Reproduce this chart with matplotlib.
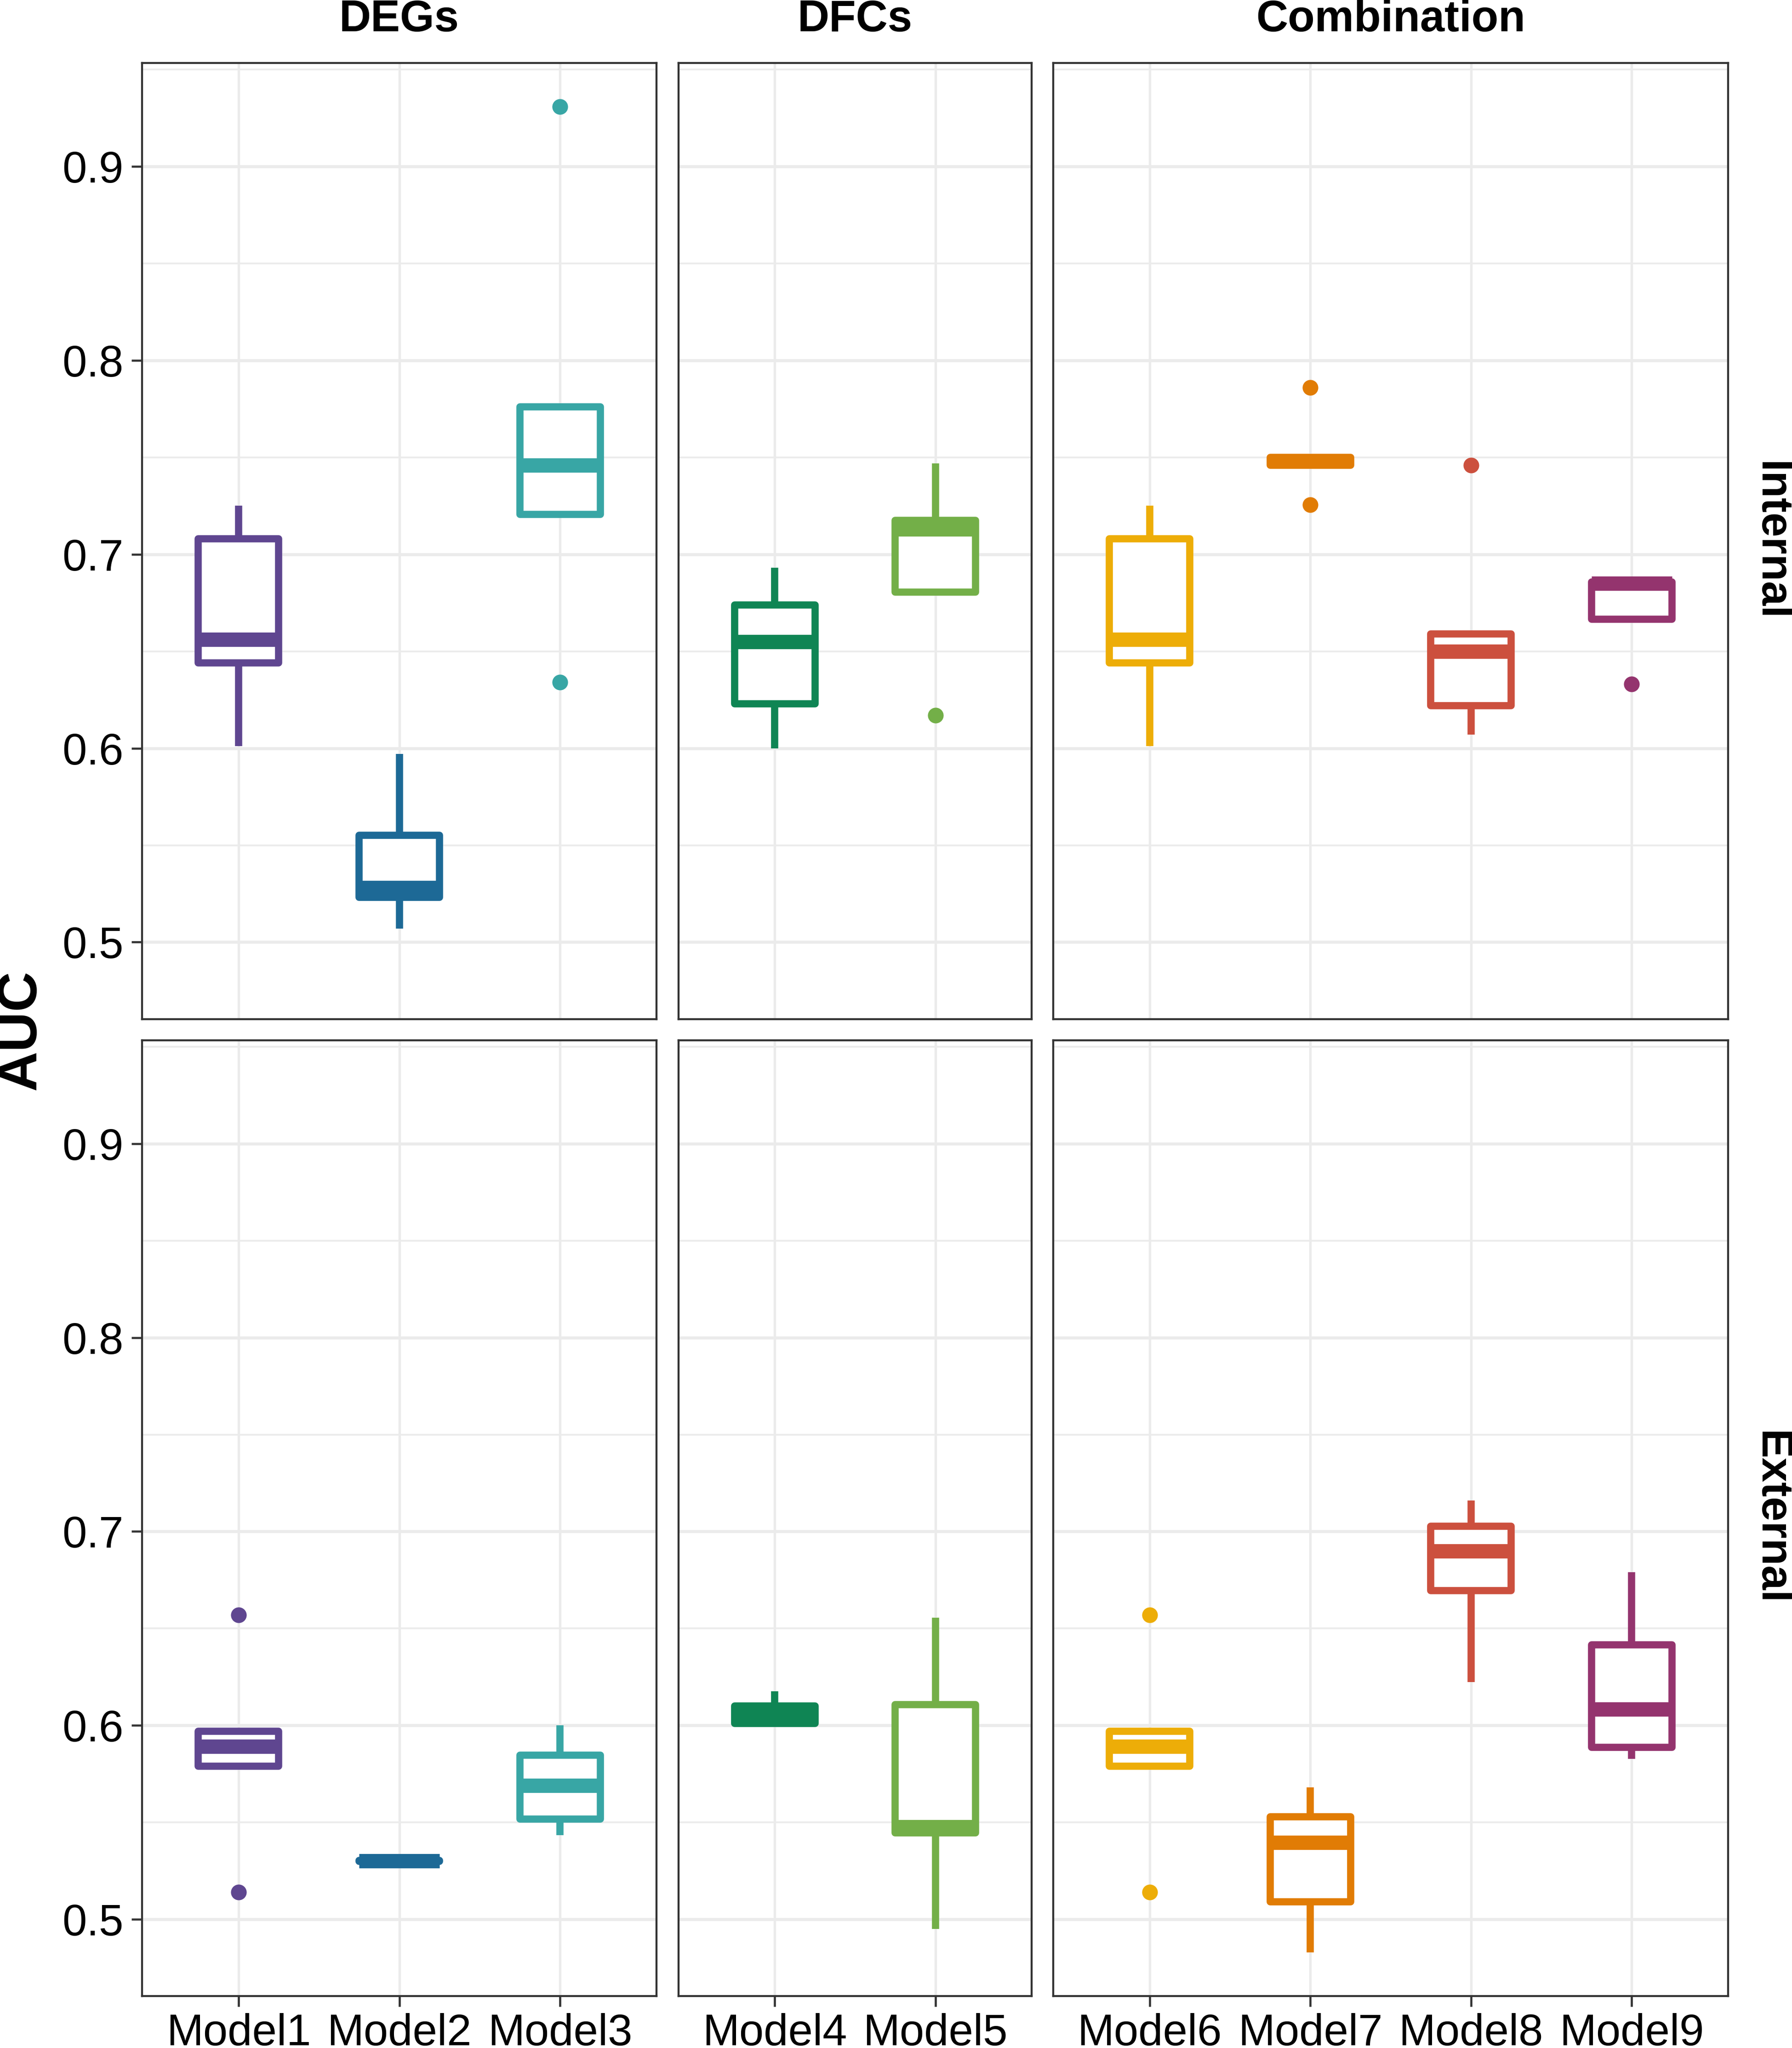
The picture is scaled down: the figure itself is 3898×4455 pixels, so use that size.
import numpy as np
import matplotlib.pyplot as plt
from matplotlib.ticker import MultipleLocator, NullLocator

plt.rcParams['font.family'] = ['Liberation Sans', 'DejaVu Sans']

# facets and models
groups = ['DEGs', 'DFCs', 'Combination']
group_models = [['Model1', 'Model2', 'Model3'],
                ['Model4', 'Model5'],
                ['Model6', 'Model7', 'Model8', 'Model9']]
sets = ['Internal', 'External']

# CARTO prism colours, one per model
model_colors = {'Model1': '#5F4690', 'Model2': '#1D6996', 'Model3': '#38A6A5',
                'Model4': '#0F8554', 'Model5': '#73AF48', 'Model6': '#EDAD08',
                'Model7': '#E17C05', 'Model8': '#CC503E', 'Model9': '#94346E'}

# AUC of the 5 runs per model
internal_auc = {
    'Model1': [0.601, 0.644, 0.656, 0.708, 0.725],
    'Model2': [0.507, 0.523, 0.528, 0.555, 0.597],
    'Model3': [0.634, 0.7205, 0.746, 0.776, 0.931],
    'Model4': [0.600, 0.623, 0.655, 0.674, 0.693],
    'Model5': [0.617, 0.6805, 0.713, 0.7175, 0.747],
    'Model6': [0.601, 0.644, 0.656, 0.708, 0.725],
    'Model7': [0.7255, 0.746, 0.748, 0.750, 0.786],
    'Model8': [0.607, 0.622, 0.650, 0.659, 0.746],
    'Model9': [0.633, 0.6665, 0.685, 0.6858, 0.686],
}
external_auc = {
    'Model1': [0.514, 0.579, 0.589, 0.597, 0.657],
    'Model2': [0.5295, 0.5297, 0.5300, 0.5302, 0.5305],
    'Model3': [0.5433, 0.5516, 0.569, 0.5845, 0.600],
    'Model4': [0.600, 0.601, 0.606, 0.610, 0.6175],
    'Model5': [0.495, 0.5446, 0.5475, 0.6106, 0.6555],
    'Model6': [0.514, 0.579, 0.589, 0.597, 0.657],
    'Model7': [0.4827, 0.5088, 0.5395, 0.5529, 0.568],
    'Model8': [0.6223, 0.6694, 0.690, 0.7027, 0.716],
    'Model9': [0.5826, 0.5887, 0.6083, 0.6415, 0.679],
}
auc = {'Internal': internal_auc, 'External': external_auc}

W, H = 3898, 4455
fig = plt.figure(figsize=(W / 300, H / 300), dpi=300)

# panel edges in pixels
col_px = [(309, 1428), (1476, 2244), (2291, 3759)]
row_px = [(137, 2217), (2263, 4342)]

all_vals = np.concatenate([v for s in sets for v in auc[s].values()])
lo, hi = all_vals.min(), all_vals.max()
pad = (hi - lo) * 0.05
ylim = (lo - pad, hi + pad)

edge = '#333333'
for r, s in enumerate(sets):
    y0, y1 = row_px[r]
    for c, g in enumerate(groups):
        x0, x1 = col_px[c]
        ax = fig.add_axes([x0 / W, 1 - y1 / H, (x1 - x0) / W, (y1 - y0) / H])
        models = group_models[c]
        data = [auc[s][m] for m in models]
        pos = np.arange(1, len(models) + 1)
        bp = ax.boxplot(data, positions=pos, widths=0.5, patch_artist=True,
                        showcaps=False, whis=1.5,
                        boxprops=dict(linewidth=3.75, facecolor='white', joinstyle='round'),
                        medianprops=dict(linewidth=7.5, solid_capstyle='butt'),
                        whiskerprops=dict(linewidth=3.75, solid_capstyle='butt'),
                        flierprops=dict(marker='o', markersize=8.2, markeredgewidth=0))
        for i, m in enumerate(models):
            col = model_colors[m]
            bp['boxes'][i].set_edgecolor(col)
            bp['medians'][i].set_color(col)
            bp['whiskers'][2 * i].set_color(col)
            bp['whiskers'][2 * i + 1].set_color(col)
            bp['fliers'][i].set_markerfacecolor(col)

        ax.set_xlim(0.4, len(models) + 0.6)
        ax.set_ylim(*ylim)
        ax.yaxis.set_major_locator(MultipleLocator(0.1))
        ax.yaxis.set_minor_locator(MultipleLocator(0.05))
        ax.xaxis.set_minor_locator(NullLocator())
        ax.set_xticks(pos)
        ax.set_xticklabels(models)
        ax.set_axisbelow(True)
        ax.grid(which='major', axis='y', color='#EBEBEB', linewidth=1.6)
        ax.grid(which='minor', axis='y', color='#EBEBEB', linewidth=0.9)
        ax.grid(which='major', axis='x', color='#EBEBEB', linewidth=1.3)
        for sp in ax.spines.values():
            sp.set_color(edge)
            sp.set_linewidth(1.05)
        ax.tick_params(which='minor', length=0)
        ax.tick_params(axis='both', which='major', length=5.5, width=1.1,
                       color=edge, labelsize=23, labelcolor='black', pad=4.2)
        ax.tick_params(axis='x', pad=3.5)
        if c != 0:
            ax.tick_params(axis='y', length=0, labelleft=False)
        if r != 1:
            ax.tick_params(axis='x', length=0, labelbottom=False)

        if r == 0:
            fig.text((x0 + x1) / 2 / W, 1 - 68 / H, g, ha='center', va='baseline',
                     fontsize=23, fontweight='bold')
    fig.text(3852 / W, 1 - (y0 + y1) / 2 / H, s, rotation=-90, ha='center',
             va='center', fontsize=23, fontweight='bold')

fig.text(45 / W, 1 - 2240 / H, 'AUC', rotation=90, ha='center', va='center',
         fontsize=29, fontweight='bold')

fig.savefig('out.png', dpi=300)
